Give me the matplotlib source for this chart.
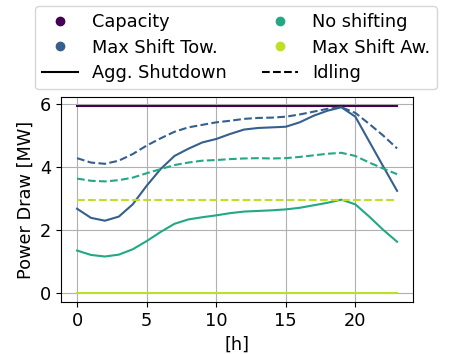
import numpy as np
import matplotlib.pyplot as plt
from matplotlib.lines import Line2D

plt.rcParams['font.size'] = 12.75

hours = np.arange(24)

capacity = [5.93] * 24

# Max Shift Tow.
tow_shut = [2.67, 2.38, 2.29, 2.42, 2.81, 3.40, 3.93, 4.35, 4.58, 4.78, 4.89, 5.05,
            5.19, 5.24, 5.26, 5.28, 5.42, 5.63, 5.79, 5.90, 5.60, 4.81, 4.02, 3.24]
tow_idle = [4.28, 4.14, 4.10, 4.20, 4.41, 4.68, 4.91, 5.12, 5.26, 5.34, 5.42, 5.47,
            5.53, 5.56, 5.57, 5.60, 5.67, 5.76, 5.85, 5.90, 5.72, 5.37, 5.00, 4.59]

# No shifting
none_shut = [1.34, 1.20, 1.15, 1.21, 1.38, 1.64, 1.93, 2.19, 2.33, 2.40, 2.46, 2.53,
             2.58, 2.60, 2.62, 2.65, 2.70, 2.78, 2.86, 2.96, 2.81, 2.42, 2.00, 1.62]
none_idle = [3.63, 3.56, 3.54, 3.58, 3.66, 3.80, 3.93, 4.06, 4.14, 4.20, 4.22, 4.25,
             4.27, 4.28, 4.27, 4.28, 4.32, 4.37, 4.42, 4.45, 4.35, 4.14, 3.95, 3.77]

# Max Shift Aw.
aw_shut = [0.0] * 24
aw_idle = [2.95] * 24

cols = plt.cm.viridis([0.0, 0.3, 0.6, 0.9])

fig = plt.figure(figsize=(4.49, 3.54), dpi=100)
ax = fig.add_axes([0.136, 0.147, 0.784, 0.579])

ax.plot(hours, capacity, color=cols[0])
ax.plot(hours, tow_shut, color=cols[1])
ax.plot(hours, tow_idle, color=cols[1], ls='--')
ax.plot(hours, none_shut, color=cols[2])
ax.plot(hours, none_idle, color=cols[2], ls='--')
ax.plot(hours, aw_shut, color=cols[3])
ax.plot(hours, aw_idle, color=cols[3], ls='--')

ax.grid(True)
ax.set_xlabel('[h]')
ax.set_ylabel('Power Draw [MW]')
ax.set_xticks([0, 5, 10, 15, 20])
ax.set_yticks([0, 2, 4, 6])

handles = [
    Line2D([], [], color=cols[0], marker='o', ls='none'),
    Line2D([], [], color=cols[1], marker='o', ls='none'),
    Line2D([], [], color='k'),
    Line2D([], [], color=cols[2], marker='o', ls='none'),
    Line2D([], [], color=cols[3], marker='o', ls='none'),
    Line2D([], [], color='k', ls='--'),
]
labels = ['Capacity', 'Max Shift Tow.', 'Agg. Shutdown',
          'No shifting', 'Max Shift Aw.', 'Idling']
fig.legend(handles, labels, ncol=2, loc='upper center',
           bbox_to_anchor=(0.526, 0.983), borderaxespad=0,
           columnspacing=2.0, labelspacing=0.42)

fig.savefig('out.png', dpi=100)
